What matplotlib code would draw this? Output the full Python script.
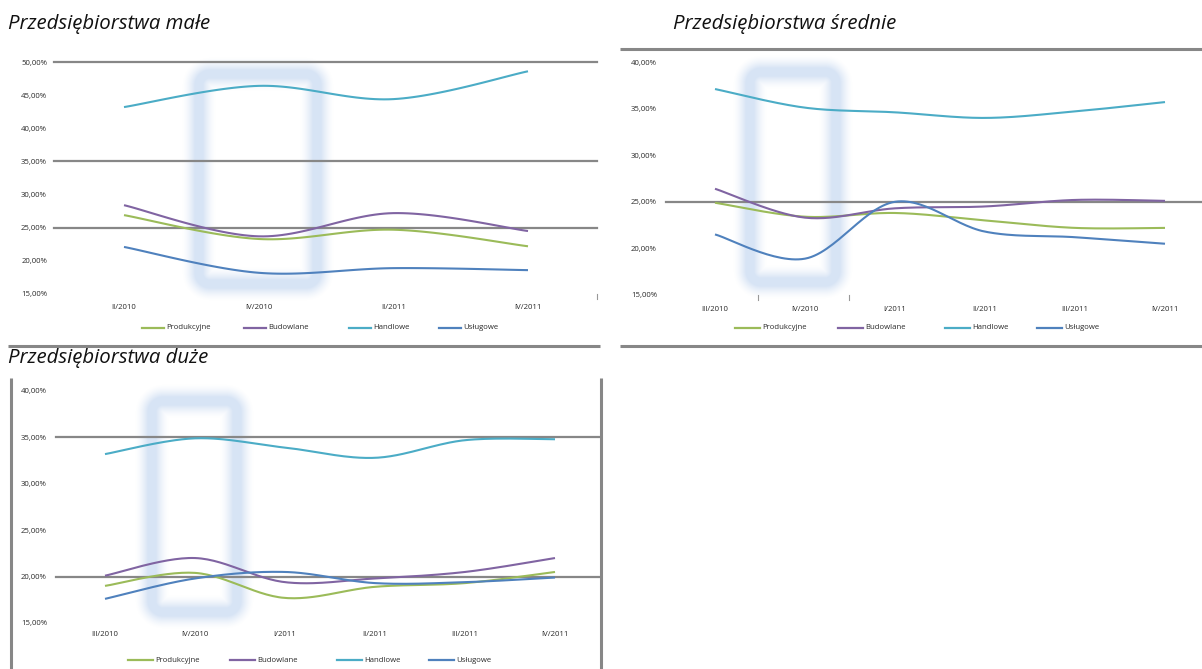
import numpy as np
import matplotlib
matplotlib.use("Agg")
import matplotlib.pyplot as plt
from matplotlib.lines import Line2D

W, H = 1202, 669
DPI = 100

plt.rcParams["font.family"] = ["Open Sans", "DejaVu Sans"]

SERIES = ["Produkcyjne", "Budowlane", "Handlowe", "Usługowe"]
COLORS = ["#9BBB59", "#8064A2", "#4BACC6", "#4F81BD"]

# --- small enterprises (half-year points) ---
small_quarters = ["II/2010", "IV/2010", "II/2011", "IV/2011"]
small_produkcyjne = [26.9, 23.3, 24.7, 22.2]
small_budowlane = [28.4, 23.7, 27.2, 24.5]
small_handlowe = [43.2, 46.4, 44.4, 48.6]
small_uslugowe = [22.1, 18.2, 18.9, 18.6]
small_yticks = [15, 20, 25, 30, 35, 40, 45, 50]
small_grid = [25, 35, 50]

# --- medium enterprises ---
medium_quarters = ["III/2010", "IV/2010", "I/2011", "II/2011", "III/2011", "IV/2011"]
medium_produkcyjne = [24.9, 23.4, 23.8, 23.0, 22.2, 22.2]
medium_budowlane = [26.4, 23.3, 24.3, 24.5, 25.2, 25.1]
medium_handlowe = [37.1, 35.1, 34.6, 34.0, 34.7, 35.7]
medium_uslugowe = [21.5, 18.9, 25.0, 21.8, 21.2, 20.5]
medium_yticks = [15, 20, 25, 30, 35, 40]
medium_grid = [25]

# --- large enterprises ---
large_quarters = ["III/2010", "IV/2010", "I/2011", "II/2011", "III/2011", "IV/2011"]
large_produkcyjne = [19.0, 20.4, 17.7, 18.9, 19.3, 20.5]
large_budowlane = [20.1, 22.0, 19.4, 19.8, 20.5, 22.0]
large_handlowe = [33.2, 34.9, 33.9, 32.8, 34.7, 34.8]
large_uslugowe = [17.6, 19.8, 20.5, 19.3, 19.4, 19.9]
large_yticks = [15, 20, 25, 30, 35, 40]
large_grid = [20, 35]

GRID_COLOR = "#878787"
TEXT_COLOR = "#2b2b2b"
LABEL_SIZE = 5.6

fig = plt.figure(figsize=(W / DPI, H / DPI), dpi=DPI, facecolor="white")


def fx(x):
    return x / W


def fy(y):
    return 1 - y / H


def smooth(y):
    """Bezier smoothing through the points (spreadsheet-style smoothed line)."""
    y = np.asarray(y, float)
    x = np.arange(len(y), dtype=float)
    P = np.column_stack([x, y])
    n = len(P)
    out = []
    t = np.linspace(0, 1, 30)[:, None]
    for i in range(n - 1):
        p0 = P[max(i - 1, 0)]
        p1 = P[i]
        p2 = P[i + 1]
        p3 = P[min(i + 2, n - 1)]
        c1 = p1 + (p2 - p0) / 6.0
        c2 = p2 - (p3 - p1) / 6.0
        seg = ((1 - t) ** 3) * p1 + 3 * ((1 - t) ** 2) * t * c1 + 3 * (1 - t) * t ** 2 * c2 + t ** 3 * p2
        out.append(seg if i == 0 else seg[1:])
    seg = np.vstack(out)
    return seg[:, 0], seg[:, 1]


def fmt_pct(v):
    return f"{v:.2f}%".replace(".", ",")


def panel(x0, x1, ytop, ybot, xfirst, dx, yticks, grid, cats, series,
          ypad, xpad):
    ax = fig.add_axes([fx(x0), fy(ybot), fx(x1) - fx(x0), fy(ytop) - fy(ybot)])
    ax.set_zorder(3)
    ax.patch.set_visible(False)
    ax.set_xlim((x0 - xfirst) / dx, (x1 - xfirst) / dx)
    ax.set_ylim(yticks[0], yticks[-1])
    for s in ax.spines.values():
        s.set_visible(False)
    for g in grid:
        ax.axhline(g, color=GRID_COLOR, lw=1.6, zorder=1, clip_on=False)
    for vals, col in zip(series, COLORS):
        xs, ys = smooth(vals)
        ax.plot(xs, ys, color=col, lw=1.5, zorder=3, clip_on=False,
                solid_capstyle="butt")
    ax.set_yticks(yticks)
    ax.set_yticklabels([fmt_pct(v) for v in yticks])
    ax.set_xticks(range(len(cats)))
    ax.set_xticklabels(cats)
    ax.tick_params(axis="y", length=0, pad=ypad, labelsize=LABEL_SIZE, labelcolor=TEXT_COLOR)
    ax.tick_params(axis="x", length=0, pad=xpad, labelsize=LABEL_SIZE, labelcolor=TEXT_COLOR)
    return ax


def legend(y, starts, line_len):
    for x, name, col in zip(starts, SERIES, COLORS):
        fig.add_artist(Line2D([fx(x), fx(x + line_len)], [fy(y), fy(y)],
                              color=col, lw=1.6))
        fig.text(fx(x + line_len + 2), fy(y), name, fontsize=LABEL_SIZE,
                 color=TEXT_COLOR, va="center", ha="left")


def glow_box(left, top, right, bottom, radius=11, sigma=11.0, amax=0.55):
    """Soft, blurred rounded frame used to highlight one period."""
    m = int(3 * sigma)
    w = int(right - left) + 2 * m
    h = int(bottom - top) + 2 * m
    yy, xx = np.mgrid[0:h, 0:w].astype(float)
    cx = (w - 1) / 2.0
    cy = (h - 1) / 2.0
    hx = (right - left) / 2.0
    hy = (bottom - top) / 2.0
    qx = np.abs(xx - cx) - (hx - radius)
    qy = np.abs(yy - cy) - (hy - radius)
    outside = np.hypot(np.maximum(qx, 0), np.maximum(qy, 0))
    inside = np.minimum(np.maximum(qx, qy), 0)
    sdf = outside + inside - radius
    d = np.abs(sdf)
    alpha = amax * np.clip(1.0 - np.maximum(d - 4.0, 0) / (sigma + 2.0), 0, 1) ** 1.5
    img = np.zeros((h, w, 4))
    img[..., 0] = 0.72
    img[..., 1] = 0.81
    img[..., 2] = 0.93
    img[..., 3] = alpha
    fig.figimage(img, xo=int(left) - m, yo=int(H - bottom) - m, origin="upper", zorder=1)


# highlight frames around IV/2010
glow_box(199, 74, 317, 284)
glow_box(750, 72, 836, 282)
glow_box(152, 401, 237, 612)

# panels
panel(54, 597, 62, 294, 124, (528 - 124) / 3, small_yticks, small_grid,
      small_quarters,
      [small_produkcyjne, small_budowlane, small_handlowe, small_uslugowe],
      ypad=5, xpad=7.5)
panel(666, 1202, 62, 295, 715, 90, medium_yticks, medium_grid,
      medium_quarters,
      [medium_produkcyjne, medium_budowlane, medium_handlowe, medium_uslugowe],
      ypad=6.5, xpad=8.0)
panel(56, 601, 391, 623, 105, 90, large_yticks, large_grid,
      large_quarters,
      [large_produkcyjne, large_budowlane, large_handlowe, large_uslugowe],
      ypad=6.5, xpad=6.0)

# titles, sized so the first one spans its measured width
title_kw = dict(style="italic", color="#111111", va="center", ha="left")
t1 = fig.text(fx(8), fy(24), "Przedsiębiorstwa małe", fontsize=12, **title_kw)
renderer = fig.canvas.get_renderer()
width_px = t1.get_window_extent(renderer).width
title_size = 12 * 202.0 / width_px
t1.set_fontsize(title_size)
fig.text(fx(673), fy(24), "Przedsiębiorstwa średnie", fontsize=title_size, **title_kw)
fig.text(fx(8), fy(358), "Przedsiębiorstwa duże", fontsize=title_size, **title_kw)

# legends
legend(328, [142, 244, 349, 439], 22)
legend(328, [735, 838, 945, 1037], 25)
legend(660, [128, 230, 337, 429], 25)

# frame lines between the panels
frame_kw = dict(color=GRID_COLOR, lw=2.2, solid_capstyle="butt")
fig.add_artist(Line2D([fx(8), fx(600)], [fy(346), fy(346)], **frame_kw))
fig.add_artist(Line2D([fx(620), fx(1202)], [fy(346), fy(346)], **frame_kw))
fig.add_artist(Line2D([fx(620), fx(1202)], [fy(49), fy(49)], **frame_kw))
fig.add_artist(Line2D([fx(11), fx(11)], [fy(378), fy(669)], **frame_kw))
fig.add_artist(Line2D([fx(601), fx(601)], [fy(378), fy(669)], **frame_kw))

# small axis tick marks
tick_kw = dict(color="#999999", lw=0.8)
for x in (597,):
    fig.add_artist(Line2D([fx(x), fx(x)], [fy(294), fy(299)], **tick_kw))
for x in (758, 849):
    fig.add_artist(Line2D([fx(x), fx(x)], [fy(295), fy(300)], **tick_kw))

fig.savefig("out.png", dpi=DPI, facecolor="white")
